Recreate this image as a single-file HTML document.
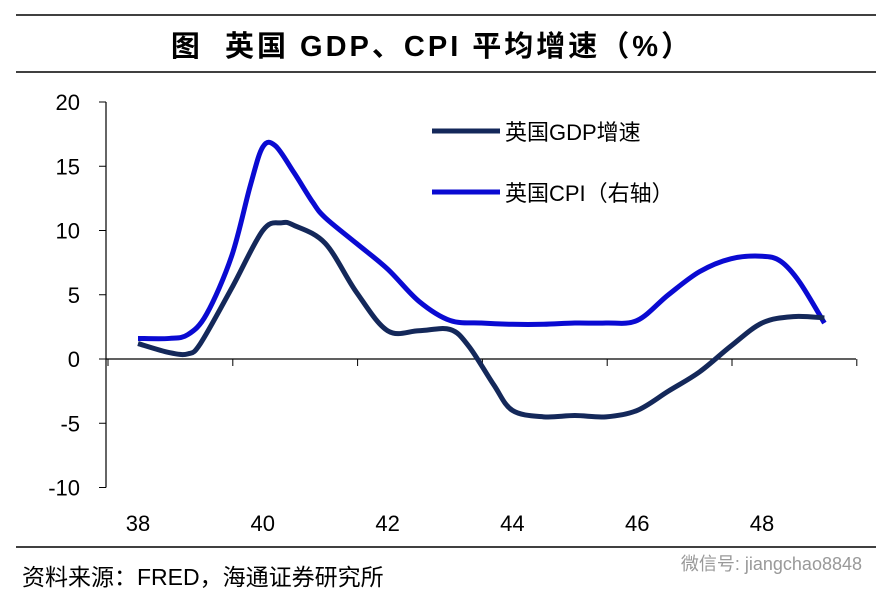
<!DOCTYPE html>
<html><head><meta charset="utf-8">
<style>
body{margin:0;background:#fff;width:892px;height:602px;overflow:hidden;font-family:"Liberation Sans","Noto Sans CJK SC",sans-serif;}
</style></head>
<body>
<svg id="chart" width="892" height="602" xmlns="http://www.w3.org/2000/svg">
<line x1="16" y1="15" x2="876" y2="15" stroke="#000" stroke-width="1.5"/>
<line x1="16" y1="72" x2="876" y2="72" stroke="#000" stroke-width="1.5"/>
<text x="432" y="56" text-anchor="middle" font-size="29" font-weight="bold" letter-spacing="3" font-family="Liberation Sans,Noto Sans CJK SC,sans-serif" xml:space="preserve">图  英国 GDP、CPI 平均增速（%）</text>
<line x1="16" y1="547" x2="876" y2="547" stroke="#000" stroke-width="1.5"/>
<text x="22" y="585" font-size="23" font-family="Liberation Sans,Noto Sans CJK SC,sans-serif">资料来源：FRED，海通证券研究所</text>
<text x="862" y="570" text-anchor="end" font-size="18" fill="#999" font-family="Liberation Sans,Noto Sans CJK SC,sans-serif">微信号: jiangchao8848</text>
<g id="axes"></g>
<g id="series"></g>
<g>
<line x1="432" y1="131" x2="500" y2="131" stroke="#14285a" stroke-width="5"/>
<text x="505" y="140" font-size="22" font-family="Liberation Sans,Noto Sans CJK SC,sans-serif">英国GDP增速</text>
<line x1="432" y1="192" x2="500" y2="192" stroke="#0a0ad2" stroke-width="5"/>
<text x="505" y="201" font-size="22" font-family="Liberation Sans,Noto Sans CJK SC,sans-serif">英国CPI（右轴）</text>
</g>
</svg>
<script>
const years=[38,38.5,38.8,39,39.5,40,40.3,40.5,41,41.5,42,42.5,43,43.3,43.7,44,44.5,45,45.5,46,46.5,47,47.5,48,48.5,49];
const gdp=[1.2,0.5,0.4,1.2,5.5,10,10.6,10.4,9,5.2,2.2,2.2,2.3,1,-2,-4,-4.5,-4.4,-4.5,-4,-2.5,-1,1,2.8,3.3,3.2];
const cpiYears=[38,38.5,38.8,39.1,39.5,39.8,40,40.2,40.5,40.8,41,41.5,42,42.5,43,43.5,44,44.5,45,45.5,46,46.5,47,47.5,48,48.3,48.6,49];
const cpi=[1.6,1.6,1.9,3.5,8,13.5,16.5,16.6,14.5,12.2,11,9,7,4.5,3,2.8,2.7,2.7,2.8,2.8,3,5,6.8,7.8,8,7.6,6,2.8];
const yTicks=[20,15,10,5,0,-5,-10];
const xLabels=[38,40,42,44,46,48];
const X=y=>138+(y-38)*62.4;
const Y=v=>359-v*12.85;
const NS="http://www.w3.org/2000/svg";
const ax=document.getElementById('axes');
function mk(t,a,p){const e=document.createElementNS(NS,t);for(const k in a)e.setAttribute(k,a[k]);p.appendChild(e);return e;}
let l=mk('line',{x1:106,y1:Y(20),x2:106,y2:Y(-10),stroke:'#000','stroke-width':1.2},ax);


l=mk('line',{x1:106,y1:Y(0),x2:856,y2:Y(0),stroke:'#000','stroke-width':1.2},ax);


yTicks.forEach(v=>{
 const t=mk('line',{x1:99,y1:Y(v),x2:106,y2:Y(v),stroke:'#000'},ax);
 
 
 const tx=mk('text',{x:80,y:Y(v)+8,'text-anchor':'end','font-size':22},ax);tx.textContent=v;
 
 
});
for(let i=0;i<7;i++){const xx=108+i*124.8;
 const t=mk('line',{x1:xx,y1:Y(0),x2:xx,y2:Y(0)+7,stroke:'#000'},ax);
 
 }
xLabels.forEach(v=>{
 const tx=mk('text',{x:X(v),y:531,'text-anchor':'middle','font-size':22},ax);tx.textContent=v;
 
 
});
function path(xs,vs){const p=xs.map((x,i)=>[X(x),Y(vs[i])]);let d='M'+p[0];
 for(let i=0;i<p.length-1;i++){const p0=p[Math.max(0,i-1)],p1=p[i],p2=p[i+1],p3=p[Math.min(p.length-1,i+2)];
  d+=' C'+(p1[0]+(p2[0]-p0[0])/6)+','+(p1[1]+(p2[1]-p0[1])/6)+' '+(p2[0]-(p3[0]-p1[0])/6)+','+(p2[1]-(p3[1]-p1[1])/6)+' '+p2;}
 return d;}
const sg=document.getElementById('series');
let s=mk('path',{d:path(cpiYears,cpi),fill:'none',stroke:'#0a0ad2','stroke-width':5,'stroke-linejoin':'round'},sg);


s=mk('path',{d:path(years,gdp),fill:'none',stroke:'#14285a','stroke-width':5,'stroke-linejoin':'round'},sg);


</script>
</body></html>
